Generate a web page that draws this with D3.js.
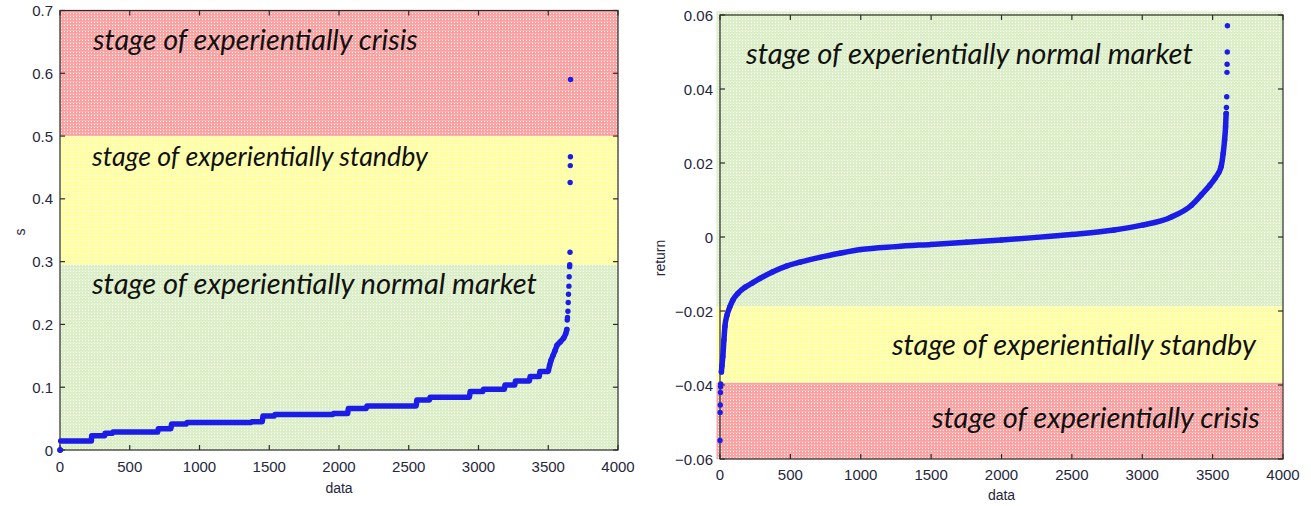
<!DOCTYPE html>
<html><head><meta charset="utf-8">
<script src="https://cdn.jsdelivr.net/npm/d3@7"></script>
<style>html,body{margin:0;padding:0;background:#fff;}svg{display:block;}</style>
</head><body>
<svg id="c" width="1311" height="506"></svg>
<script>
// ---------- DATA ----------
// Left chart (s): staircase runs [start index, end index, value]
const sRunStart = [5, 227, 323, 380, 705, 800, 910, 1375, 1455, 1540, 1960, 2067, 2200, 2558, 2653, 2940, 3035, 3190, 3265, 3370, 3440];
const sRunEnd   = [225, 320, 375, 700, 795, 905, 1370, 1450, 1535, 1955, 2062, 2195, 2553, 2648, 2935, 3030, 3185, 3260, 3365, 3435, 3500];
const sRunValue = [0.0145, 0.0228, 0.0265, 0.0285, 0.034, 0.0414, 0.0437, 0.045, 0.054, 0.0565, 0.058, 0.066, 0.070, 0.0796, 0.084, 0.093, 0.0966, 0.1035, 0.110, 0.117, 0.125];
// Left chart: individual points (tail and origin)
const sPointIndex = [0, 1, 2, 3510, 3520, 3535, 3550, 3563, 3585, 3610, 3625, 3633, 3636, 3638, 3641, 3643, 3645, 3648, 3650, 3653, 3654, 3656, 3657, 3658, 3659, 3660];
const sPointValue = [0, 0, 0, 0.135, 0.143, 0.151, 0.159, 0.167, 0.172, 0.178, 0.185, 0.192, 0.207, 0.211, 0.221, 0.235, 0.248, 0.261, 0.276, 0.292, 0.295, 0.315, 0.426, 0.453, 0.467, 0.590];
const sTicksY = [0, 0.1, 0.2, 0.3, 0.4, 0.5, 0.6, 0.7];
const sBands = [[0.5, 0.7, "red"], [0.295, 0.5, "yellow"], [0, 0.295, "green"]];

// Right chart (return): sorted returns
const rIndex = [0, 1, 2, 3, 4, 5, 10, 14, 20, 28, 35, 50, 71, 92, 128, 178, 227, 284, 376, 476, 568, 710, 852, 1000, 1250, 1500, 1750, 2000, 2250, 2500, 2800, 3000, 3200, 3350, 3420, 3480, 3520, 3560, 3575, 3585, 3592, 3596, 3598, 3600, 3602, 3603, 3604, 3605];
const rValue = [-0.055, -0.0474, -0.0454, -0.042, -0.0405, -0.0397, -0.0365, -0.0348, -0.0323, -0.0278, -0.0242, -0.0211, -0.0188, -0.017, -0.0152, -0.0136, -0.0125, -0.0112, -0.0094, -0.0078, -0.0068, -0.0055, -0.0044, -0.0034, -0.0026, -0.002, -0.0014, -0.0008, -0.0001, 0.0007, 0.0019, 0.0032, 0.0053, 0.0086, 0.0114, 0.014, 0.016, 0.019, 0.0226, 0.0262, 0.0298, 0.0334, 0.035, 0.0379, 0.0445, 0.0467, 0.050, 0.0571];
const rTicksY = [-0.06, -0.04, -0.02, 0, 0.02, 0.04, 0.06];
const rBands = [[-0.0187, 0.06, "green"], [-0.0394, -0.0187, "yellow"], [-0.06, -0.0394, "red"]];

const xTicks = [0, 500, 1000, 1500, 2000, 2500, 3000, 3500, 4000];
const labelsLeft = ["stage of experientially crisis", "stage of experientially standby", "stage of experientially normal market"];
const labelsRight = ["stage of experientially normal market", "stage of experientially standby", "stage of experientially crisis"];

// ---------- DRAW ----------
const svg = d3.select("#c");
const defs = svg.append("defs");
const bandColors = {red: "#fc9e9e", yellow: "#ffff9c", green: "#d9eec4"};
Object.entries(bandColors).forEach(([k, c]) => {
  const p = defs.append("pattern").attr("id", "pat-" + k).attr("width", 3).attr("height", 3).attr("patternUnits", "userSpaceOnUse");
  p.append("rect").attr("width", 3).attr("height", 3).attr("fill", c);
  p.append("rect").attr("x", 1).attr("y", 1).attr("width", 1).attr("height", 1).attr("fill", "#ffffff");
  p.append("rect").attr("x", 0).attr("y", 0).attr("width", 3).attr("height", 0.5).attr("fill", "#ffffff").attr("opacity", 0.35);
});

const tickFont = "'Liberation Sans', Arial, sans-serif";
const textColor = "#26263c";
const dotColor = "#1c1ce8";

function panel(o) {
  const g = svg.append("g");
  const x = d3.scaleLinear([0, 4000], o.xr);
  const y = d3.scaleLinear(o.yd, o.yr);
  o.bands.forEach(b => {
    const top = y(b[1]) - (b[1] === o.yd[1] ? o.padTop : 0);
    g.append("rect")
      .attr("x", o.xr[0] - o.padLeft).attr("y", top)
      .attr("width", o.xr[1] - o.xr[0] + o.padLeft).attr("height", y(b[0]) - top)
      .attr("fill", "url(#pat-" + b[2] + ")");
  });
  const ax = g.append("g").attr("stroke", "#2b2b2b").attr("stroke-width", 1.2).attr("fill", "none");
  ax.append("rect").attr("x", o.xr[0]).attr("y", o.yr[1]).attr("width", o.xr[1] - o.xr[0]).attr("height", o.yr[0] - o.yr[1]);
  const tl = 5;
  xTicks.forEach(t => {
    ax.append("line").attr("x1", x(t)).attr("x2", x(t)).attr("y1", o.yr[0]).attr("y2", o.yr[0] - tl);
    ax.append("line").attr("x1", x(t)).attr("x2", x(t)).attr("y1", o.yr[1]).attr("y2", o.yr[1] + tl);
  });
  o.yTicks.forEach(t => {
    ax.append("line").attr("x1", o.xr[0]).attr("x2", o.xr[0] + tl).attr("y1", y(t)).attr("y2", y(t));
    ax.append("line").attr("x1", o.xr[1]).attr("x2", o.xr[1] - tl).attr("y1", y(t)).attr("y2", y(t));
  });
  const tg = g.append("g").attr("font-family", tickFont).attr("font-size", 15).attr("fill", textColor);
  xTicks.forEach(t => {
    tg.append("text").attr("x", x(t)).attr("y", o.yr[0] + o.xLabDy).attr("text-anchor", "middle").attr("dominant-baseline", "central").text(t);
  });
  o.yTicks.forEach(t => {
    tg.append("text").attr("x", o.xr[0] - o.yLabDx).attr("y", y(t)).attr("text-anchor", "end").attr("dominant-baseline", "central").text(o.fmt(t));
  });
  tg.append("text").attr("x", (o.xr[0] + o.xr[1]) / 2).attr("y", o.xTitleY).attr("text-anchor", "middle").attr("dominant-baseline", "central").attr("font-size", 14).text("data");
  tg.append("text").attr("transform", `translate(${o.yTitleX},${o.yTitleY}) rotate(-90)`).attr("text-anchor", "middle").attr("dominant-baseline", "central").attr("font-size", 14).text(o.yTitle);
  return {g, x, y};
}

function annotate(g, txt, x0, x1, baseline) {
  const t = g.append("text").attr("x", x0).attr("y", baseline)
    .attr("font-family", "Lato, 'Open Sans', sans-serif").attr("font-style", "italic")
    .attr("font-size", 100).attr("fill", "#111").text(txt);
  const w = t.node().getComputedTextLength();
  t.attr("font-size", 100 * (x1 - x0) / w);
}

// Left panel
const L = panel({xr: [60, 618], yd: [0, 0.7], yr: [450, 10.5], bands: sBands, yTicks: sTicksY, padLeft: 0, padTop: 0,
  fmt: d => d === 0 ? "0" : d3.format(".1f")(d), xLabDy: 16, yLabDx: 7, xTitleY: 488, yTitleX: 20, yTitleY: 232, yTitle: "s"});
const stepPts = [];
sRunStart.forEach((s, i) => { stepPts.push([s, sRunValue[i]]); stepPts.push([sRunEnd[i], sRunValue[i]]); });
const tailPts = sPointIndex.map((d, i) => [d, sPointValue[i]]).filter(d => d[0] > 100 && d[1] < 0.2);
const lineL = d3.line().x(d => L.x(d[0])).y(d => L.y(d[1]));
L.g.append("path").attr("d", lineL(stepPts.concat(tailPts))).attr("fill", "none").attr("stroke", dotColor)
  .attr("stroke-width", 5.5).attr("stroke-linecap", "round").attr("stroke-linejoin", "round");
L.g.selectAll("circle.p").data(sPointIndex.map((d, i) => [d, sPointValue[i]])).join("circle")
  .attr("cx", d => L.x(d[0])).attr("cy", d => L.y(d[1])).attr("r", 2.7).attr("fill", dotColor);
annotate(L.g, labelsLeft[0], 93, 418, 50);
annotate(L.g, labelsLeft[1], 92, 428, 166);
annotate(L.g, labelsLeft[2], 92, 537, 294);

// Right panel
const R = panel({xr: [720, 1283], yd: [-0.06, 0.06], yr: [459, 15], bands: rBands, yTicks: rTicksY, padLeft: 3.5, padTop: 3.5,
  fmt: d => d === 0 ? "0" : d3.format(".2f")(d), xLabDy: 15, yLabDx: 7, xTitleY: 495, yTitleX: 660, yTitleY: 258, yTitle: "return"});
const rPts = rIndex.map((d, i) => [d, rValue[i]]);
const lineR = d3.line().x(d => R.x(d[0])).y(d => R.y(d[1])).curve(d3.curveMonotoneX);
R.g.append("path").attr("d", lineR(rPts.filter(d => d[1] > -0.037 && d[1] < 0.034))).attr("fill", "none").attr("stroke", dotColor)
  .attr("stroke-width", 5.5).attr("stroke-linecap", "round").attr("stroke-linejoin", "round");
R.g.selectAll("circle.p").data(rPts).join("circle")
  .attr("cx", d => R.x(d[0])).attr("cy", d => R.y(d[1])).attr("r", 2.7).attr("fill", dotColor);
annotate(R.g, labelsRight[0], 746, 1193, 64);
annotate(R.g, labelsRight[1], 892, 1256, 355);
annotate(R.g, labelsRight[2], 932, 1260, 428);
</script>
</body></html>
